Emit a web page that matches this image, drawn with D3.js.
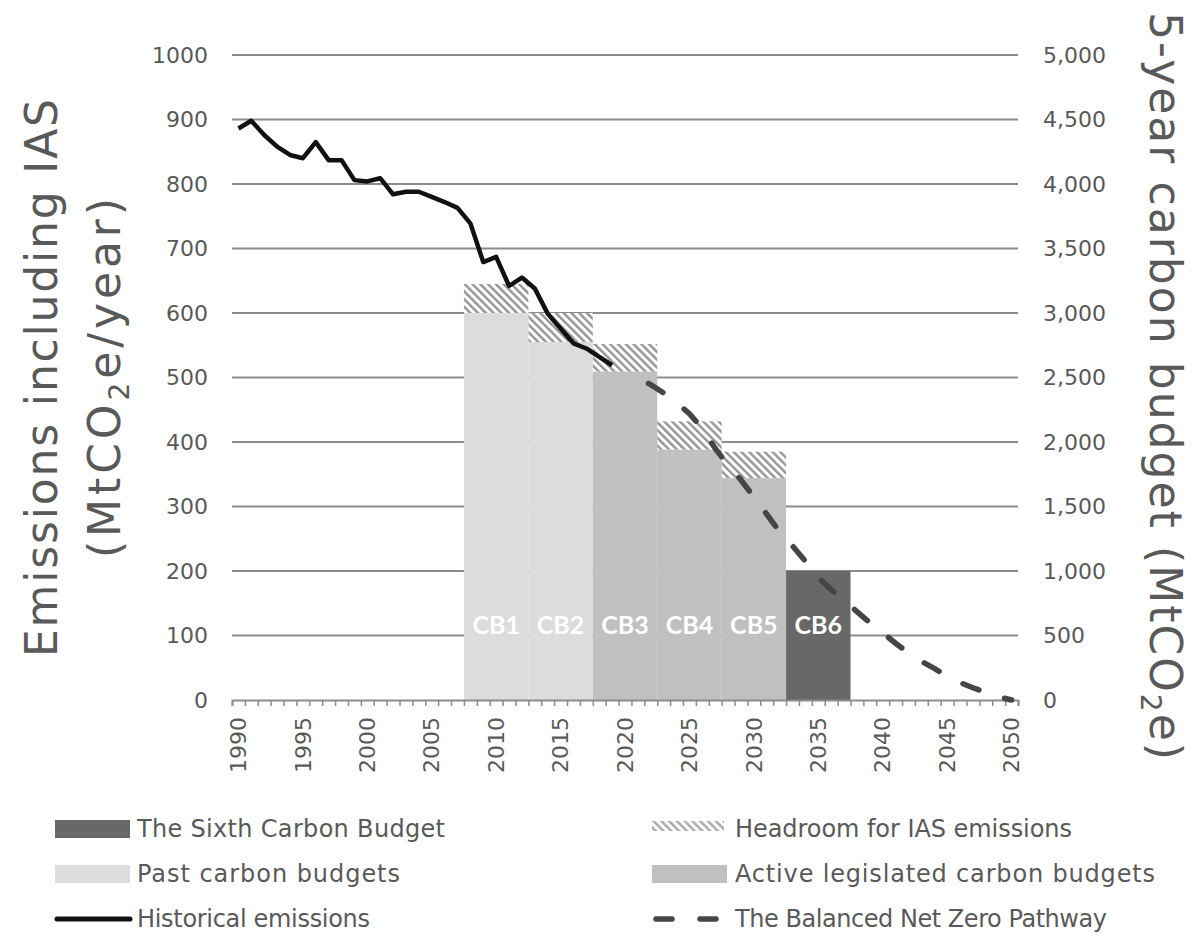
<!DOCTYPE html>
<html>
<head>
<meta charset="utf-8">
<script src="https://cdn.jsdelivr.net/npm/d3@7"></script>
<style>
  body { margin: 0; background: #fff; }
  svg { display: block; font-family: "DejaVu Sans", sans-serif; }
</style>
</head>
<body>
<div class="container"></div>
<script>
// historical emissions incl. IAS (MtCO2e/year)
const histYears = [1990, 1991, 1992, 1993, 1994, 1995, 1996, 1997, 1998, 1999,
  2000, 2001, 2002, 2003, 2004, 2005, 2006, 2007, 2008, 2009,
  2010, 2011, 2012, 2013, 2014, 2015, 2016, 2017, 2018, 2019];
const histValues = [886, 898, 876, 858, 845, 840, 865, 837, 837, 806,
  804, 809, 784, 788, 788, 780, 772, 763, 739, 679,
  687, 642, 655, 638, 599, 576, 553, 545, 532, 519];

// Balanced Net Zero Pathway
const pathYears = [2020, 2021, 2022, 2023, 2024, 2025, 2026, 2027, 2028, 2029,
  2030, 2031, 2032, 2033, 2034, 2035, 2036, 2037, 2038, 2039,
  2040, 2041, 2042, 2043, 2044, 2045, 2046, 2047, 2048, 2049, 2050];
const pathValues = [508, 499, 489, 476, 461, 444, 421, 390, 364, 341,
  315, 288, 261, 239, 215, 190, 171, 155, 137, 120,
  104, 88, 73, 60, 49, 37, 27, 19, 12, 5, 0];

// carbon budgets (MtCO2e per 5-year period, right axis)
const budgetNames = ["CB1", "CB2", "CB3", "CB4", "CB5", "CB6"];
const budgetStart = [2008, 2013, 2018, 2023, 2028, 2033];
const budgetTotals = [3000, 2775, 2545, 1940, 1720, 1000];
const iasHeadroom = [225, 225, 215, 220, 205, 0];
const budgetKind = ["past", "past", "active", "active", "active", "sixth"];

const leftTicks = [0, 100, 200, 300, 400, 500, 600, 700, 800, 900, 1000];
const rightTicks = [0, 500, 1000, 1500, 2000, 2500, 3000, 3500, 4000, 4500, 5000];
const yearLabels = [1990, 1995, 2000, 2005, 2010, 2015, 2020, 2025, 2030, 2035, 2040, 2045, 2050];

const width = 1198, height = 940;
const textColor = "#595959";
const gridColor = "#8c8c8c";
const fills = { past: "#dcdcdc", active: "#c0c0c0", sixth: "#686868" };

const x = d3.scaleLinear().domain([1989.5, 2050.5]).range([232, 1018]);
const yL = d3.scaleLinear().domain([0, 1000]).range([700, 55]);
const yR = d3.scaleLinear().domain([0, 5000]).range([700, 55]);

const svg = d3.select(".container").append("svg")
  .attr("width", width)
  .attr("height", height);

// hatch for IAS headroom
const defs = svg.append("defs");
const pat = defs.append("pattern")
  .attr("id", "hatch")
  .attr("patternUnits", "userSpaceOnUse")
  .attr("width", 5.5).attr("height", 5.5)
  .attr("patternTransform", "rotate(-45)");
pat.append("rect").attr("width", 5.5).attr("height", 5.5).attr("fill", "#fff");
pat.append("rect").attr("width", 2.4).attr("height", 5.5).attr("fill", "#949494");

// gridlines
svg.append("g")
  .selectAll("line")
  .data(leftTicks.filter((d) => d > 0))
  .join("line")
  .attr("x1", x.range()[0]).attr("x2", x.range()[1])
  .attr("y1", (d) => yL(d)).attr("y2", (d) => yL(d))
  .attr("stroke", gridColor)
  .attr("stroke-width", 2);

// budget bars
const budgets = budgetNames.map((name, i) => ({
  name, start: budgetStart[i], total: budgetTotals[i], ias: iasHeadroom[i], kind: budgetKind[i]
}));

const gBars = svg.append("g");
gBars.selectAll("rect.hatch")
  .data(budgets.filter((d) => d.ias > 0))
  .join("rect")
  .attr("class", "hatch")
  .attr("x", (d) => x(d.start - 0.5))
  .attr("width", (d) => x(d.start + 4.5) - x(d.start - 0.5))
  .attr("y", (d) => yR(d.total + d.ias))
  .attr("height", (d) => yR(d.total) - yR(d.total + d.ias))
  .attr("fill", "url(#hatch)");

gBars.selectAll("rect.budget")
  .data(budgets)
  .join("rect")
  .attr("class", "budget")
  .attr("x", (d) => x(d.start - 0.5))
  .attr("width", (d) => x(d.start + 4.5) - x(d.start - 0.5))
  .attr("y", (d) => yR(d.total))
  .attr("height", (d) => yR(0) - yR(d.total))
  .attr("fill", (d) => fills[d.kind]);

gBars.selectAll("text")
  .data(budgets)
  .join("text")
  .attr("x", (d) => x(d.start + 2))
  .attr("y", yL(116))
  .attr("dy", "0.35em")
  .attr("text-anchor", "middle")
  .attr("fill", "#fff")
  .attr("font-family", "Lato, sans-serif")
  .attr("font-weight", "bold")
  .attr("font-size", 25)
  .text((d) => d.name);

// x axis: yearly ticks between categories
const xAxis = svg.append("g")
  .attr("transform", `translate(0,${yL(0)})`)
  .call(d3.axisBottom(x).tickValues(d3.range(1989.5, 2050.6, 1)).tickSize(6).tickFormat(""));
xAxis.select(".domain").attr("stroke", gridColor).attr("stroke-width", 2);
xAxis.selectAll(".tick line").attr("stroke", gridColor).attr("stroke-width", 1.5);

svg.append("g")
  .selectAll("text")
  .data(yearLabels)
  .join("text")
  .attr("transform", (d) => `translate(${x(d)},717) rotate(-90)`)
  .attr("dy", "0.35em")
  .attr("text-anchor", "end")
  .attr("font-size", 22)
  .attr("fill", textColor)
  .text((d) => d);

// left + right axes
const axL = svg.append("g")
  .attr("transform", `translate(${x.range()[0]},0)`)
  .call(d3.axisLeft(yL).tickValues(leftTicks).tickSize(0).tickPadding(24).tickFormat(d3.format("d")));
const axR = svg.append("g")
  .attr("transform", `translate(${x.range()[1]},0)`)
  .call(d3.axisRight(yR).tickValues(rightTicks).tickSize(0).tickPadding(25).tickFormat(d3.format(",")));
[axL, axR].forEach((a) => {
  a.select(".domain").remove();
  a.selectAll("text")
    .attr("font-size", 22)
    .attr("fill", textColor)
    .attr("font-family", "DejaVu Sans, sans-serif");
});

// lines
const line = d3.line().x((d) => x(d[0])).y((d) => yL(d[1]));

svg.append("path")
  .datum(pathYears.map((yr, i) => [yr, pathValues[i]]))
  .attr("d", line)
  .attr("fill", "none")
  .attr("stroke", "#454545")
  .attr("stroke-width", 5.5)
  .attr("stroke-linecap", "round")
  .attr("stroke-dasharray", "17,27")
  .attr("stroke-dashoffset", 18);

svg.append("path")
  .datum(histYears.map((yr, i) => [yr, histValues[i]]))
  .attr("d", line)
  .attr("fill", "none")
  .attr("stroke", "#111")
  .attr("stroke-width", 4.5)
  .attr("stroke-linejoin", "round");

// axis titles
const titleSize = 44;
svg.append("text")
  .attr("transform", `translate(57,378) rotate(-90)`)
  .attr("text-anchor", "middle")
  .attr("font-size", titleSize)
  .attr("fill", textColor)
  .attr("textLength", 558)
  .attr("lengthAdjust", "spacing")
  .text("Emissions including IAS");

const t2 = svg.append("text")
  .attr("transform", `translate(120,378) rotate(-90)`)
  .attr("text-anchor", "middle")
  .attr("font-size", titleSize)
  .attr("fill", textColor)
  .attr("textLength", 360)
  .attr("lengthAdjust", "spacing");
t2.append("tspan").text("(MtCO");
t2.append("tspan").attr("font-size", 28).attr("dy", 9).text("2");
t2.append("tspan").attr("dy", -9).text("e/year)");

const t3 = svg.append("text")
  .attr("transform", `translate(1150,386) rotate(90)`)
  .attr("text-anchor", "middle")
  .attr("font-size", titleSize)
  .attr("fill", textColor)
  .attr("textLength", 748)
  .attr("lengthAdjust", "spacing");
t3.append("tspan").text("5-year carbon budget (MtCO");
t3.append("tspan").attr("font-size", 28).attr("dy", 9).text("2");
t3.append("tspan").attr("dy", -9).text("e)");

// legend
const legendItems = [
  { label: "The Sixth Carbon Budget", type: "rect", fill: fills.sixth, col: 0, row: 0, len: 308 },
  { label: "Past carbon budgets", type: "rect", fill: fills.past, col: 0, row: 1, len: 263 },
  { label: "Historical emissions", type: "line", col: 0, row: 2, len: 233 },
  { label: "Headroom for IAS emissions", type: "hatch", col: 1, row: 0, len: 337 },
  { label: "Active legislated carbon budgets", type: "rect", fill: fills.active, col: 1, row: 1, len: 420 },
  { label: "The Balanced Net Zero Pathway", type: "dash", col: 1, row: 2, len: 372 }
];
const colX = [55, 652];
const rowY = [829, 874, 919];

const lg = svg.append("g")
  .selectAll("g")
  .data(legendItems)
  .join("g")
  .attr("transform", (d) => `translate(${colX[d.col]},${rowY[d.row]})`);

lg.filter((d) => d.type === "rect")
  .append("rect")
  .attr("x", 0).attr("y", -9).attr("width", 75).attr("height", 18)
  .attr("fill", (d) => d.fill);
lg.filter((d) => d.type === "hatch")
  .append("rect")
  .attr("x", 0).attr("y", -8).attr("width", 72).attr("height", 10)
  .attr("fill", "url(#hatch)")
  .attr("opacity", 0.8);
lg.filter((d) => d.type === "line")
  .append("line")
  .attr("x1", 2).attr("x2", 75)
  .attr("stroke", "#111").attr("stroke-width", 5).attr("stroke-linecap", "round");
lg.filter((d) => d.type === "dash")
  .append("line")
  .attr("x1", 4).attr("x2", 70)
  .attr("stroke", "#454545").attr("stroke-width", 5.5).attr("stroke-linecap", "round")
  .attr("stroke-dasharray", "16,28");

lg.append("text")
  .attr("x", (d) => (d.col === 0 ? 82 : 83))
  .attr("dy", "0.35em")
  .attr("font-size", 24)
  .attr("fill", textColor)
  .attr("textLength", (d) => d.len)
  .attr("lengthAdjust", "spacing")
  .text((d) => d.label);
</script>
</body>
</html>
